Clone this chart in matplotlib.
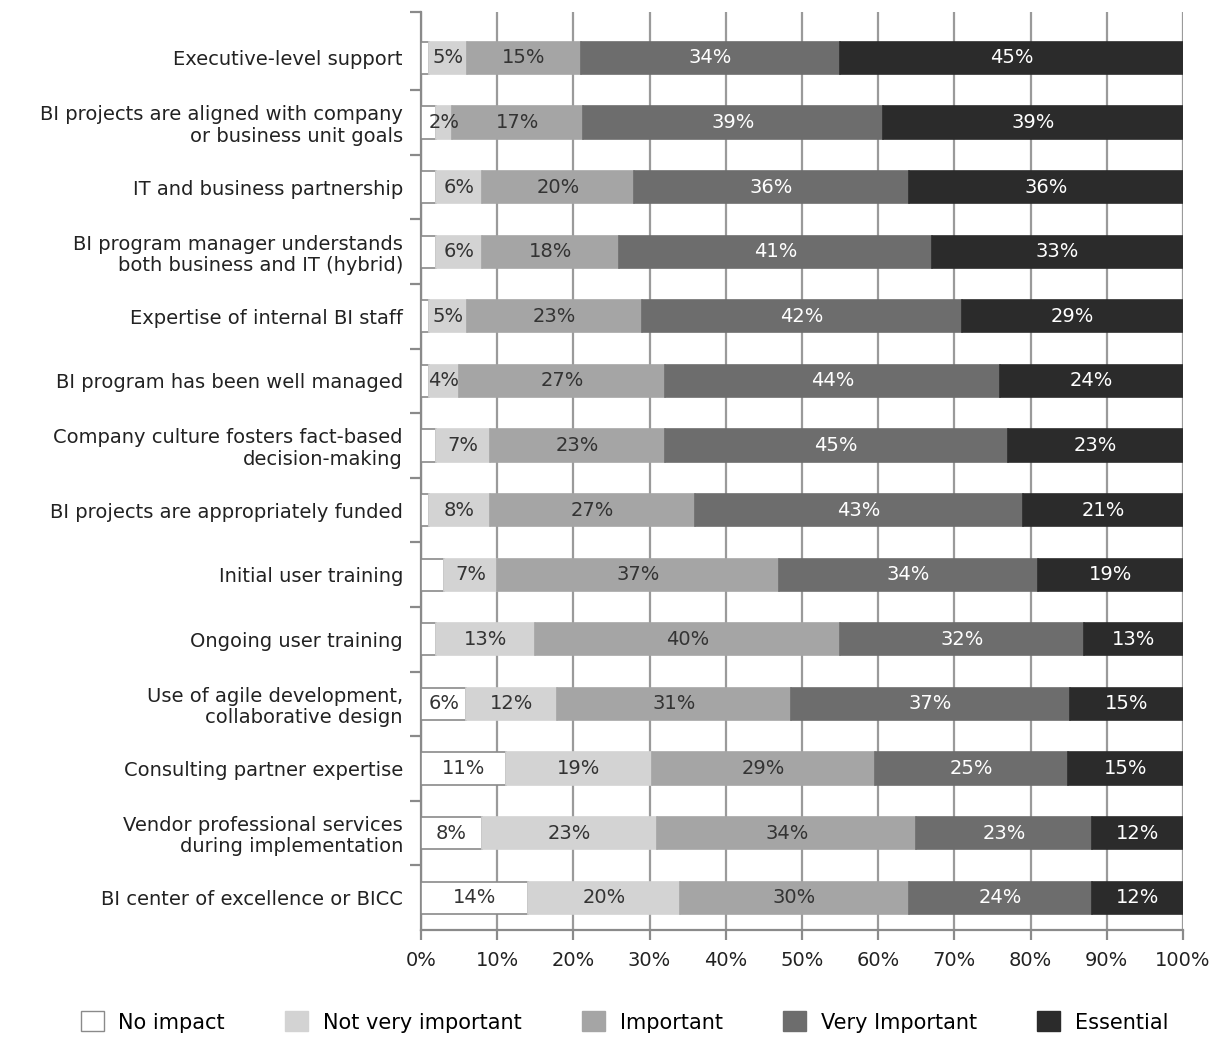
import numpy as np
import matplotlib.pyplot as plt
from matplotlib.patches import Patch

categories = [
    'Executive-level support',
    'BI projects are aligned with company\nor business unit goals',
    'IT and business partnership',
    'BI program manager understands\nboth business and IT (hybrid)',
    'Expertise of internal BI staff',
    'BI program has been well managed',
    'Company culture fosters fact-based\ndecision-making',
    'BI projects are appropriately funded',
    'Initial user training',
    'Ongoing user training',
    'Use of agile development,\ncollaborative design',
    'Consulting partner expertise',
    'Vendor professional services\nduring implementation',
    'BI center of excellence or BICC',
]

series_names = ['No impact', 'Not very important', 'Important', 'Very Important', 'Essential']

no_impact = [1, 2, 2, 2, 1, 1, 2, 1, 3, 2, 6, 11, 8, 14]
not_very = [5, 2, 6, 6, 5, 4, 7, 8, 7, 13, 12, 19, 23, 20]
important = [15, 17, 20, 18, 23, 27, 23, 27, 37, 40, 31, 29, 34, 30]
very_important = [34, 39, 36, 41, 42, 44, 45, 43, 34, 32, 37, 25, 23, 24]
essential = [45, 39, 36, 33, 29, 24, 23, 21, 19, 13, 15, 15, 12, 12]

colors = ['#ffffff', '#d3d3d3', '#a5a5a5', '#6d6d6d', '#2b2b2b']
text_colors = ['#333333', '#333333', '#333333', '#ffffff', '#ffffff']

plt.rcParams['font.family'] = 'DejaVu Sans'

fig = plt.figure(figsize=(12.15, 10.37), dpi=100)
ax = fig.add_axes([421 / 1215, 1 - 930 / 1037, 762 / 1215, 918 / 1037])

data = np.array([no_impact, not_very, important, very_important, essential], dtype=float)
# 100% stacked: each row scaled to its own total
shares = data / data.sum(axis=0) * 100

y = np.arange(len(categories))
left = np.zeros(len(categories))
handles = []
for k, (name, c, tc) in enumerate(zip(series_names, colors, text_colors)):
    edge = '#8a8a8a' if k == 0 else c
    ax.barh(y, shares[k], left=left, height=0.5, color=c, edgecolor=edge,
            linewidth=1.2, zorder=3)
    for yi, l, w, v in zip(y, left, shares[k], data[k]):
        # the smallest "No impact" shares are left unlabelled
        if k > 0 or v >= 5:
            ax.text(l + w / 2, yi, f'{int(v)}%', ha='center', va='center',
                    fontsize=14, color=tc, zorder=4)
    left += shares[k]
    handles.append(Patch(facecolor=c, edgecolor=edge, label=name))

ax.set_xlim(0, 100)
ax.set_ylim(13.5, -0.71)
ax.set_xticks(np.arange(0, 101, 10))
ax.set_xticklabels([f'{v}%' for v in range(0, 101, 10)], fontsize=14, color='#222222')
ax.xaxis.grid(True, color='#9a9a9a', linewidth=1.6, zorder=0)
ax.set_axisbelow(True)

# category labels centred on bars, separator ticks between rows
ax.set_yticks(y)
ax.set_yticklabels(categories, fontsize=14, color='#222222', linespacing=1.15)
ax.tick_params(axis='y', which='major', length=0, pad=13)
ax.set_yticks(list(np.arange(0.5, 13, 1)) + [-0.71], minor=True)
ax.tick_params(axis='y', which='minor', length=8, width=1.6, color='#8a8a8a')
ax.tick_params(axis='x', length=7, width=1.6, color='#8a8a8a', pad=8)

for s in ['top', 'right']:
    ax.spines[s].set_visible(False)
for s in ['left', 'bottom']:
    ax.spines[s].set_color('#8a8a8a')
    ax.spines[s].set_linewidth(1.6)

fig.legend(handles=handles, loc='center', bbox_to_anchor=(0.514, 1 - 1022 / 1037),
           ncol=5, frameon=False, fontsize=15, handlelength=1.1, handleheight=1.1,
           handletextpad=0.7, columnspacing=2.9)

fig.savefig('out.png', dpi=100, facecolor='white')
